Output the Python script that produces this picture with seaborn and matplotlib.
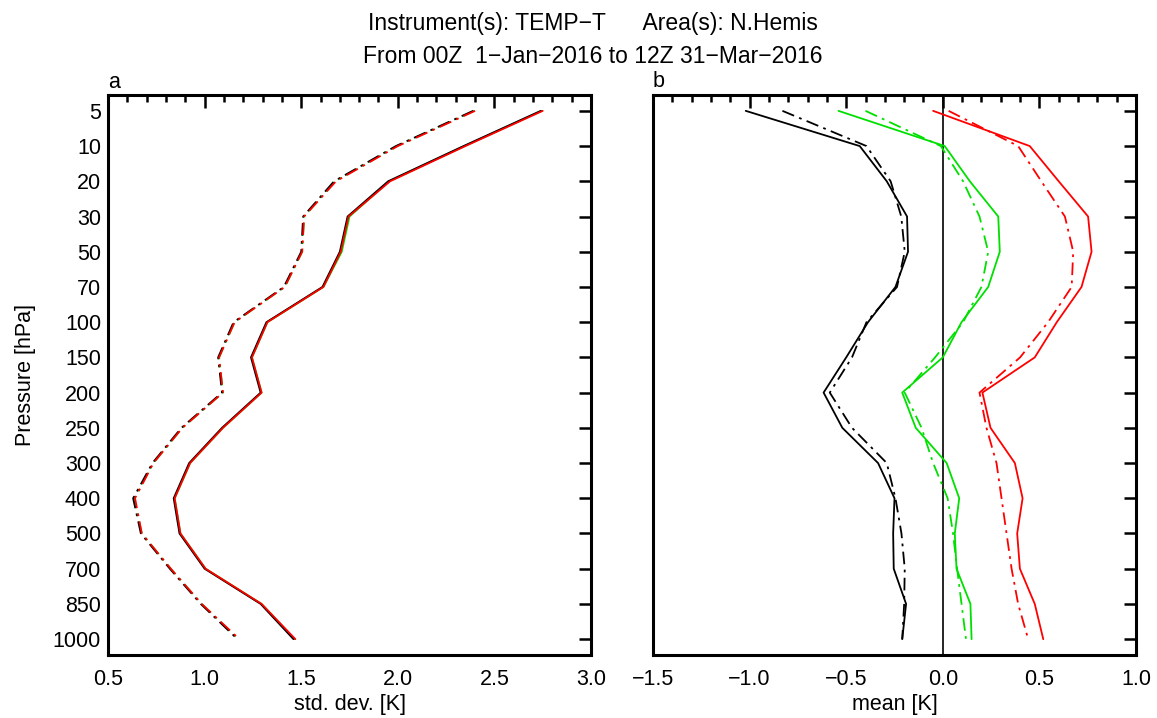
import matplotlib
matplotlib.use("Agg")
import matplotlib.pyplot as plt
from matplotlib.ticker import MultipleLocator
import seaborn as sns
import pandas as pd
import numpy as np

sns.set_style("white")
plt.rcParams['font.family'] = ['Liberation Sans', 'DejaVu Sans']
plt.rcParams['text.color'] = 'black'
plt.rcParams['axes.labelcolor'] = 'black'
plt.rcParams['xtick.color'] = 'black'
plt.rcParams['ytick.color'] = 'black'

levels = ["5", "10", "20", "30", "50", "70", "100", "150", "200", "250",
          "300", "400", "500", "700", "850", "1000"]

# Left panel: std. dev. [K]
std_black_solid = [2.74, 2.34, 1.95, 1.74, 1.70, 1.61, 1.32, 1.24, 1.29, 1.09,
                   0.92, 0.84, 0.87, 1.00, 1.29, 1.46]
std_green_solid = [2.745, 2.345, 1.955, 1.75, 1.71, 1.615, 1.325, 1.245, 1.295, 1.095,
                   0.925, 0.845, 0.875, 1.005, 1.295, 1.465]
std_red_solid = [2.75, 2.35, 1.96, 1.745, 1.705, 1.615, 1.325, 1.245, 1.295, 1.095,
                 0.925, 0.845, 0.875, 1.005, 1.295, 1.47]
std_black_dash = [2.39, 1.99, 1.67, 1.51, 1.50, 1.41, 1.15, 1.07, 1.09, 0.88,
                  0.73, 0.63, 0.67, 0.82, 0.98, 1.17]
std_green_dash = [2.395, 1.995, 1.675, 1.515, 1.505, 1.415, 1.155, 1.075, 1.095, 0.885,
                  0.735, 0.635, 0.675, 0.825, 0.985, 1.175]
std_red_dash = [2.40, 2.00, 1.68, 1.515, 1.505, 1.415, 1.155, 1.075, 1.095, 0.885,
                0.735, 0.64, 0.675, 0.825, 0.985, 1.18]

# Right panel: mean [K]
mean_black_solid = [-1.02, -0.43, -0.29, -0.185, -0.18, -0.245, -0.387, -0.50, -0.617, -0.52,
                    -0.335, -0.25, -0.257, -0.254, -0.19, -0.21]
mean_black_dash = [-0.83, -0.395, -0.27, -0.215, -0.197, -0.237, -0.395, -0.47, -0.585, -0.47,
                   -0.29, -0.245, -0.214, -0.197, -0.20, -0.21]
mean_green_solid = [-0.54, 0.01, 0.14, 0.287, 0.295, 0.235, 0.097, 0.0, -0.21, -0.14,
                    0.02, 0.085, 0.062, 0.071, 0.143, 0.149]
mean_green_dash = [-0.40, -0.01, 0.105, 0.19, 0.235, 0.20, 0.105, -0.04, -0.197, -0.11,
                   -0.05, 0.025, 0.053, 0.074, 0.097, 0.12]
mean_red_solid = [-0.05, 0.45, 0.60, 0.752, 0.77, 0.718, 0.59, 0.476, 0.205, 0.247,
                  0.373, 0.413, 0.385, 0.399, 0.476, 0.52]
mean_red_dash = [0.03, 0.39, 0.51, 0.632, 0.675, 0.667, 0.545, 0.40, 0.19, 0.226,
                 0.278, 0.304, 0.33, 0.356, 0.39, 0.442]

BLACK = "#000000"
GREEN = "#00e000"
RED = "#ff0000"
DASHDOT = (0, (7, 3, 1.5, 3))

W, H = 1157, 718
fig = plt.figure(figsize=(W / 100, H / 100), dpi=100)
ax1 = fig.add_axes([108 / W, 1 - 655 / H, 483 / W, 560 / H])
ax2 = fig.add_axes([653 / W, 1 - 655 / H, 483 / W, 560 / H])

ypos = np.arange(len(levels))


def draw(ax, vals, color, ls):
    df = pd.DataFrame({"x": vals, "y": ypos})
    sns.lineplot(data=df, x="x", y="y", sort=False, orient="y", estimator=None,
                 color=color, linewidth=1.3, linestyle=ls, ax=ax)


draw(ax1, std_green_solid, GREEN, "-")
draw(ax1, std_black_solid, BLACK, "-")
draw(ax1, std_red_solid, RED, "-")
draw(ax1, std_green_dash, GREEN, DASHDOT)
draw(ax1, std_black_dash, BLACK, DASHDOT)
draw(ax1, std_red_dash, RED, DASHDOT)

ax2.axvline(0, color="black", linewidth=1.2)
draw(ax2, mean_black_solid, BLACK, "-")
draw(ax2, mean_black_dash, BLACK, DASHDOT)
draw(ax2, mean_green_solid, GREEN, "-")
draw(ax2, mean_green_dash, GREEN, DASHDOT)
draw(ax2, mean_red_solid, RED, "-")
draw(ax2, mean_red_dash, RED, DASHDOT)

FS = 15.5
for ax, xlim, xlabel in [(ax1, (0.5, 3.0), "std. dev. [K]"),
                         (ax2, (-1.5, 1.0), "mean [K]")]:
    ax.set_xlim(*xlim)
    ax.set_ylim(15.45, -0.45)
    ax.xaxis.set_major_locator(MultipleLocator(0.5))
    ax.xaxis.set_minor_locator(MultipleLocator(0.1))
    ax.set_yticks(ypos)
    ax.tick_params(axis="both", which="both", direction="in", top=True, right=True,
                   color="black", labelcolor="black", width=1.8)
    ax.tick_params(axis="x", which="major", length=9, labelsize=FS, pad=10)
    ax.tick_params(axis="x", which="minor", length=5)
    ax.tick_params(axis="y", which="major", length=9, labelsize=FS, pad=5)
    ax.set_xticklabels([f"{v:.1f}".replace("-", "\u2212") for v in ax.get_xticks()])
    ax.set_xlabel(xlabel, fontsize=FS, labelpad=3, color="black")
    for s in ax.spines.values():
        s.set_color("black")
        s.set_linewidth(2.2)

ax1.set_yticklabels(levels)
ax1.set_ylabel("Pressure [hPa]", fontsize=FS, labelpad=12, color="black")
ax2.set_yticklabels([])
ax2.set_ylabel("")

fig.text(108 / W, 1 - 88 / H, "a", fontsize=FS, ha="left", va="baseline", color="black")
fig.text(653 / W, 1 - 87 / H, "b", fontsize=FS, ha="left", va="baseline", color="black")

TFS = 16.5
fig.text(593 / W, 1 - 30 / H, "Instrument(s): TEMP\u2212T      Area(s): N.Hemis",
         fontsize=TFS, ha="center", va="baseline", color="black")
fig.text(593 / W, 1 - 63 / H, "From 00Z  1\u2212Jan\u22122016 to 12Z 31\u2212Mar\u22122016",
         fontsize=TFS, ha="center", va="baseline", color="black")

fig.savefig("out.png", dpi=100)
